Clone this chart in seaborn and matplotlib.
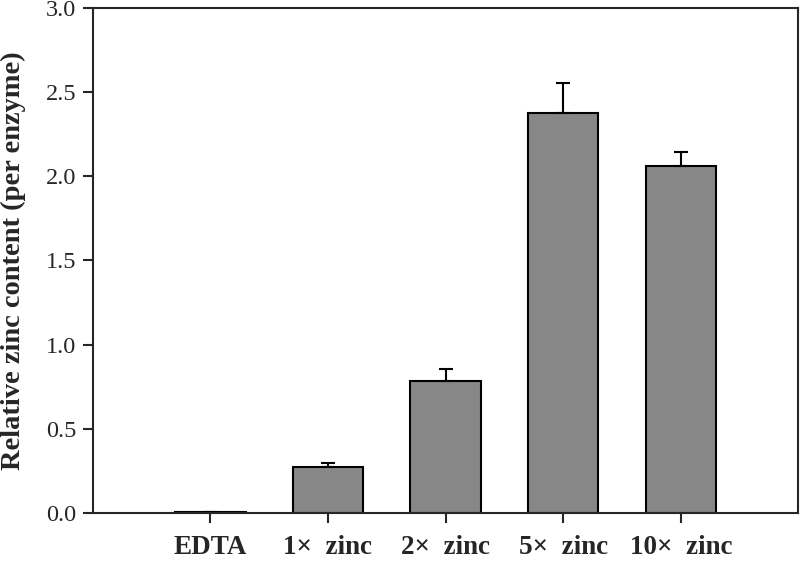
import seaborn as sns
import pandas as pd
import matplotlib.pyplot as plt

conditions = ['EDTA', '1\u00d7  zinc', '2\u00d7  zinc', '5\u00d7  zinc', '10\u00d7  zinc']
zinc = [0.005, 0.275, 0.782, 2.377, 2.064]
zinc_err = [0.0, 0.024, 0.075, 0.178, 0.081]

df = pd.DataFrame({'condition': conditions, 'zinc': zinc})

sns.set_style('ticks')
plt.rcParams['font.family'] = ['Liberation Serif', 'DejaVu Serif']

fig = plt.figure(figsize=(8, 5.62), dpi=100)
ax = fig.add_axes([0.116, 0.087, 0.882, 0.899])

sns.barplot(x='condition', y='zinc', data=df, color='#878787', saturation=1,
            edgecolor='black', linewidth=1.5, width=0.6, ax=ax)
ax.errorbar(range(len(zinc)), zinc, yerr=[[0] * len(zinc), zinc_err], fmt='none',
            ecolor='black', elinewidth=1.5, capsize=5, capthick=1.5)

ax.set_xlim(-1, 5)
ax.set_ylim(0, 3.0)
ax.set_yticks([0, 0.5, 1.0, 1.5, 2.0, 2.5, 3.0])
ax.set_yticklabels(['0.0', '0.5', '1.0', '1.5', '2.0', '2.5', '3.0'])
ax.set_xlabel('')
ax.set_ylabel('Relative zinc content (per enzyme)', fontsize=20.5, fontweight='bold')
ax.yaxis.set_label_coords(-0.094, 0.5)
ax.tick_params(axis='y', labelsize=17.5, direction='out', length=7, width=1.5, pad=5)
ax.tick_params(axis='x', labelsize=19.5, direction='out', length=7, width=1.5, pad=9)
for lbl in ax.get_xticklabels():
    lbl.set_fontweight('bold')
for sp in ax.spines.values():
    sp.set_linewidth(1.5)
    sp.set_visible(True)

plt.savefig('out.png', dpi=100)
